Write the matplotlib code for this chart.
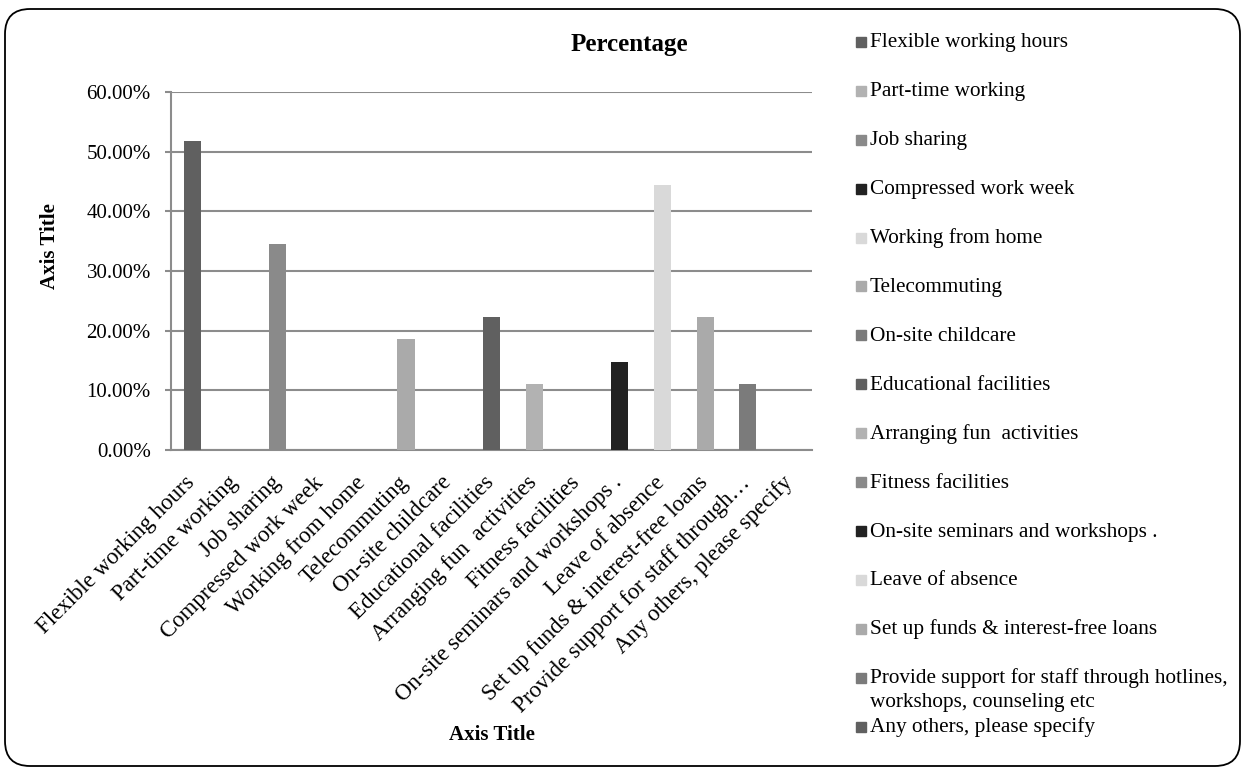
import numpy as np
import matplotlib
matplotlib.use('Agg')
import matplotlib.pyplot as plt
import matplotlib.transforms as mtransforms
from matplotlib.patches import FancyBboxPatch, Rectangle

plt.rcParams['font.family'] = ['Liberation Serif', 'DejaVu Serif']

# data
categories = ['Flexible working hours', 'Part-time working', 'Job sharing',
              'Compressed work week', 'Working from home', 'Telecommuting',
              'On-site childcare', 'Educational facilities', 'Arranging fun  activities',
              'Fitness facilities', 'On-site seminars and workshops .', 'Leave of absence',
              'Set up funds & interest-free loans',
              'Provide support for staff through hotlines,\nworkshops, counseling etc',
              'Any others, please specify']
tick_labels = categories[:13] + ['Provide support for staff through\u2026',
                                 'Any others, please specify']
percent = [51.85, 0, 34.6, 0, 0, 18.52, 0, 22.22, 11.11, 0, 14.81, 44.44, 22.22, 11.11, 0]
y_ticks = [0, 10, 20, 30, 40, 50, 60]

shades = ['#606060', '#b2b2b2', '#8a8a8a', '#222222', '#d9d9d9', '#aaaaaa', '#7b7b7b']
colors = [shades[i % 7] for i in range(len(categories))]

W, H = 1245, 769
fig = plt.figure(figsize=(W / 100, H / 100), dpi=100)
ax = fig.add_axes([171 / W, 1 - 450 / H, (812 - 171) / W, (450 - 92) / H])

x = np.arange(len(categories))
ax.bar(x, percent, width=0.4, color=colors, zorder=3)
ax.set_xlim(-0.5, len(categories) - 0.5)
ax.set_ylim(0, 60)

grid_c = '#8c8c8c'
ax.set_yticks(y_ticks)
ax.set_yticklabels(['%.2f%%' % v for v in y_ticks], fontsize=15)
ax.yaxis.grid(True, color=grid_c, linewidth=1.5, zorder=0)
ax.tick_params(axis='y', length=4.5, width=1.5, color=grid_c, pad=10)
ax.set_xticks(x)
ax.set_xticklabels(tick_labels, rotation=45, ha='right', va='top',
                   rotation_mode='anchor', fontsize=16.5)
ax.tick_params(axis='x', length=0, pad=16)
shift = mtransforms.ScaledTranslation(-8 / 100, 0, fig.dpi_scale_trans)
for lbl in ax.get_xticklabels():
    lbl.set_transform(lbl.get_transform() + shift)
for s in ['top', 'right']:
    ax.spines[s].set_visible(False)
ax.spines['left'].set_color(grid_c)
ax.spines['left'].set_linewidth(1.5)
ax.spines['bottom'].set_color(grid_c)
ax.spines['bottom'].set_linewidth(1.5)

ax.set_xlabel('Axis Title', fontsize=15, fontweight='bold', va='center')
ax.xaxis.set_label_coords(0.5, (450 - 735) / 358)
ax.set_ylabel('Axis Title', fontsize=15, fontweight='bold', va='center')
ax.yaxis.set_label_coords((50 - 171) / 641, (450 - 246) / 358)

fig.text(629 / W, 1 - 45 / H, 'Percentage', fontsize=18, fontweight='bold',
         ha='center', va='center')

# legend, Excel style fixed slots
for i, (lab, c) in enumerate(zip(categories, colors)):
    yc = 42 + 48.9 * i
    fig.patches.append(Rectangle((856 / W, 1 - (yc + 5) / H), 10 / W, 10 / H,
                                 transform=fig.transFigure, color=c))
    fig.text(870 / W, 1 - (yc + 5.5) / H, lab.split('\n')[0], fontsize=15.3,
             ha='left', va='baseline')
    if '\n' in lab:
        fig.text(870 / W, 1 - (yc + 29) / H, lab.split('\n')[1], fontsize=15.3,
                 ha='left', va='baseline')

# rounded chart border
border = FancyBboxPatch((0.05, 0.03), 12.35, 7.57, boxstyle='round,pad=0,rounding_size=0.25',
                        transform=fig.dpi_scale_trans, fill=False, edgecolor='black',
                        linewidth=1.3)
fig.patches.append(border)

fig.savefig('out.png', dpi=100)
